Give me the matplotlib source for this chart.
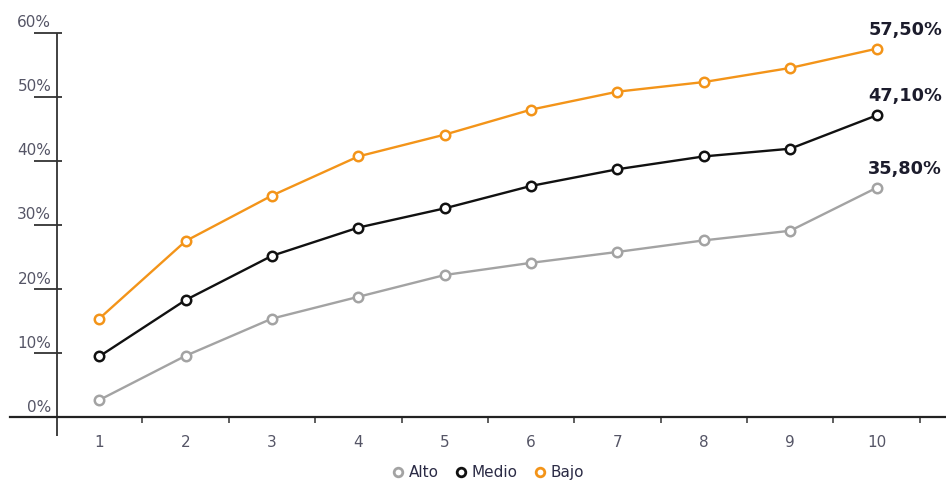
import matplotlib
matplotlib.use("Agg")
import matplotlib.pyplot as plt
from matplotlib.lines import Line2D

# Data
categories = [1, 2, 3, 4, 5, 6, 7, 8, 9, 10]
alto = [2.7, 9.6, 15.4, 18.8, 22.2, 24.1, 25.8, 27.6, 29.1, 35.8]
medio = [9.5, 18.3, 25.2, 29.6, 32.6, 36.1, 38.7, 40.7, 41.9, 47.1]
bajo = [15.4, 27.5, 34.6, 40.7, 44.1, 48.0, 50.8, 52.3, 54.5, 57.5]
series_names = ["Alto", "Medio", "Bajo"]
y_ticks = [0, 10, 20, 30, 40, 50, 60]
y_tick_labels = ["0%", "10%", "20%", "30%", "40%", "50%", "60%"]

colors = {"Alto": "#a3a3a3", "Medio": "#111111", "Bajo": "#f39419"}
tick_color = "#555566"
label_color = "#1c1c2c"

plt.rcParams["font.family"] = ["DejaVu Sans"]

fig = plt.figure(figsize=(9.46, 4.82), dpi=100)
ax = fig.add_axes([10 / 946, 42 / 482, 936 / 946, 420 / 482])
ax.set_xlim(-0.034, 10.804)
ax.set_ylim(-3.54, 61.98)

for spine in ("top", "right", "left"):
    ax.spines[spine].set_visible(False)
ax.spines["bottom"].set_position(("data", 0))
ax.spines["bottom"].set_color("#222222")
ax.spines["bottom"].set_linewidth(1.6)

# Vertical axis line with its own short horizontal tick bars
y_axis_x = 0.51
ax.plot([y_axis_x, y_axis_x], [-2.9, 60], color="#333333", lw=1.3,
        solid_capstyle="butt", clip_on=False, zorder=2)
ax.hlines(y_ticks[1:], 0.247, 0.571, color="#333333", lw=1.3, zorder=2)
ax.set_yticks([])
for v, lab in zip(y_ticks, y_tick_labels):
    ax.annotate(lab, xy=(0.444, v), xytext=(0, 4), textcoords="offset points",
                ha="right", va="baseline", fontsize=11, color=tick_color)

# Category separators (major) and category labels (minor)
ax.set_xticks([c + 0.5 for c in categories])
ax.tick_params(axis="x", which="major", length=4, width=1.1, color="#333333",
               direction="out", labelbottom=False)
ax.set_xticks(categories, minor=True)
ax.set_xticklabels([str(c) for c in categories], minor=True)
ax.tick_params(axis="x", which="minor", length=0, pad=13, labelsize=11,
               labelcolor=tick_color)

# Lines
for name, values in zip(series_names, [alto, medio, bajo]):
    ax.plot(categories, values, color=colors[name], lw=1.7, marker="o",
            markersize=6.8, markerfacecolor="white", markeredgewidth=1.8,
            markeredgecolor=colors[name], zorder=3, clip_on=False)
    last = values[-1]
    ax.annotate(f"{last:.2f}".replace(".", ",") + "%",
                xy=(categories[-1], last), xytext=(-6, 10),
                textcoords="offset points", ha="left", va="baseline",
                fontsize=12.8, fontweight="bold", color=label_color)

# Legend
handles = [Line2D([], [], linestyle="none", marker="o", markersize=6.2,
                  markerfacecolor="white", markeredgewidth=2,
                  markeredgecolor=colors[n]) for n in series_names]
fig.legend(handles, series_names, loc="center", bbox_to_anchor=(0.516, 0.019),
           ncol=3, frameon=False, fontsize=11, handlelength=0.7,
           handletextpad=0.35, columnspacing=1.1, labelcolor="#2b2b45",
           borderpad=0)

fig.savefig("out.png", dpi=100)
